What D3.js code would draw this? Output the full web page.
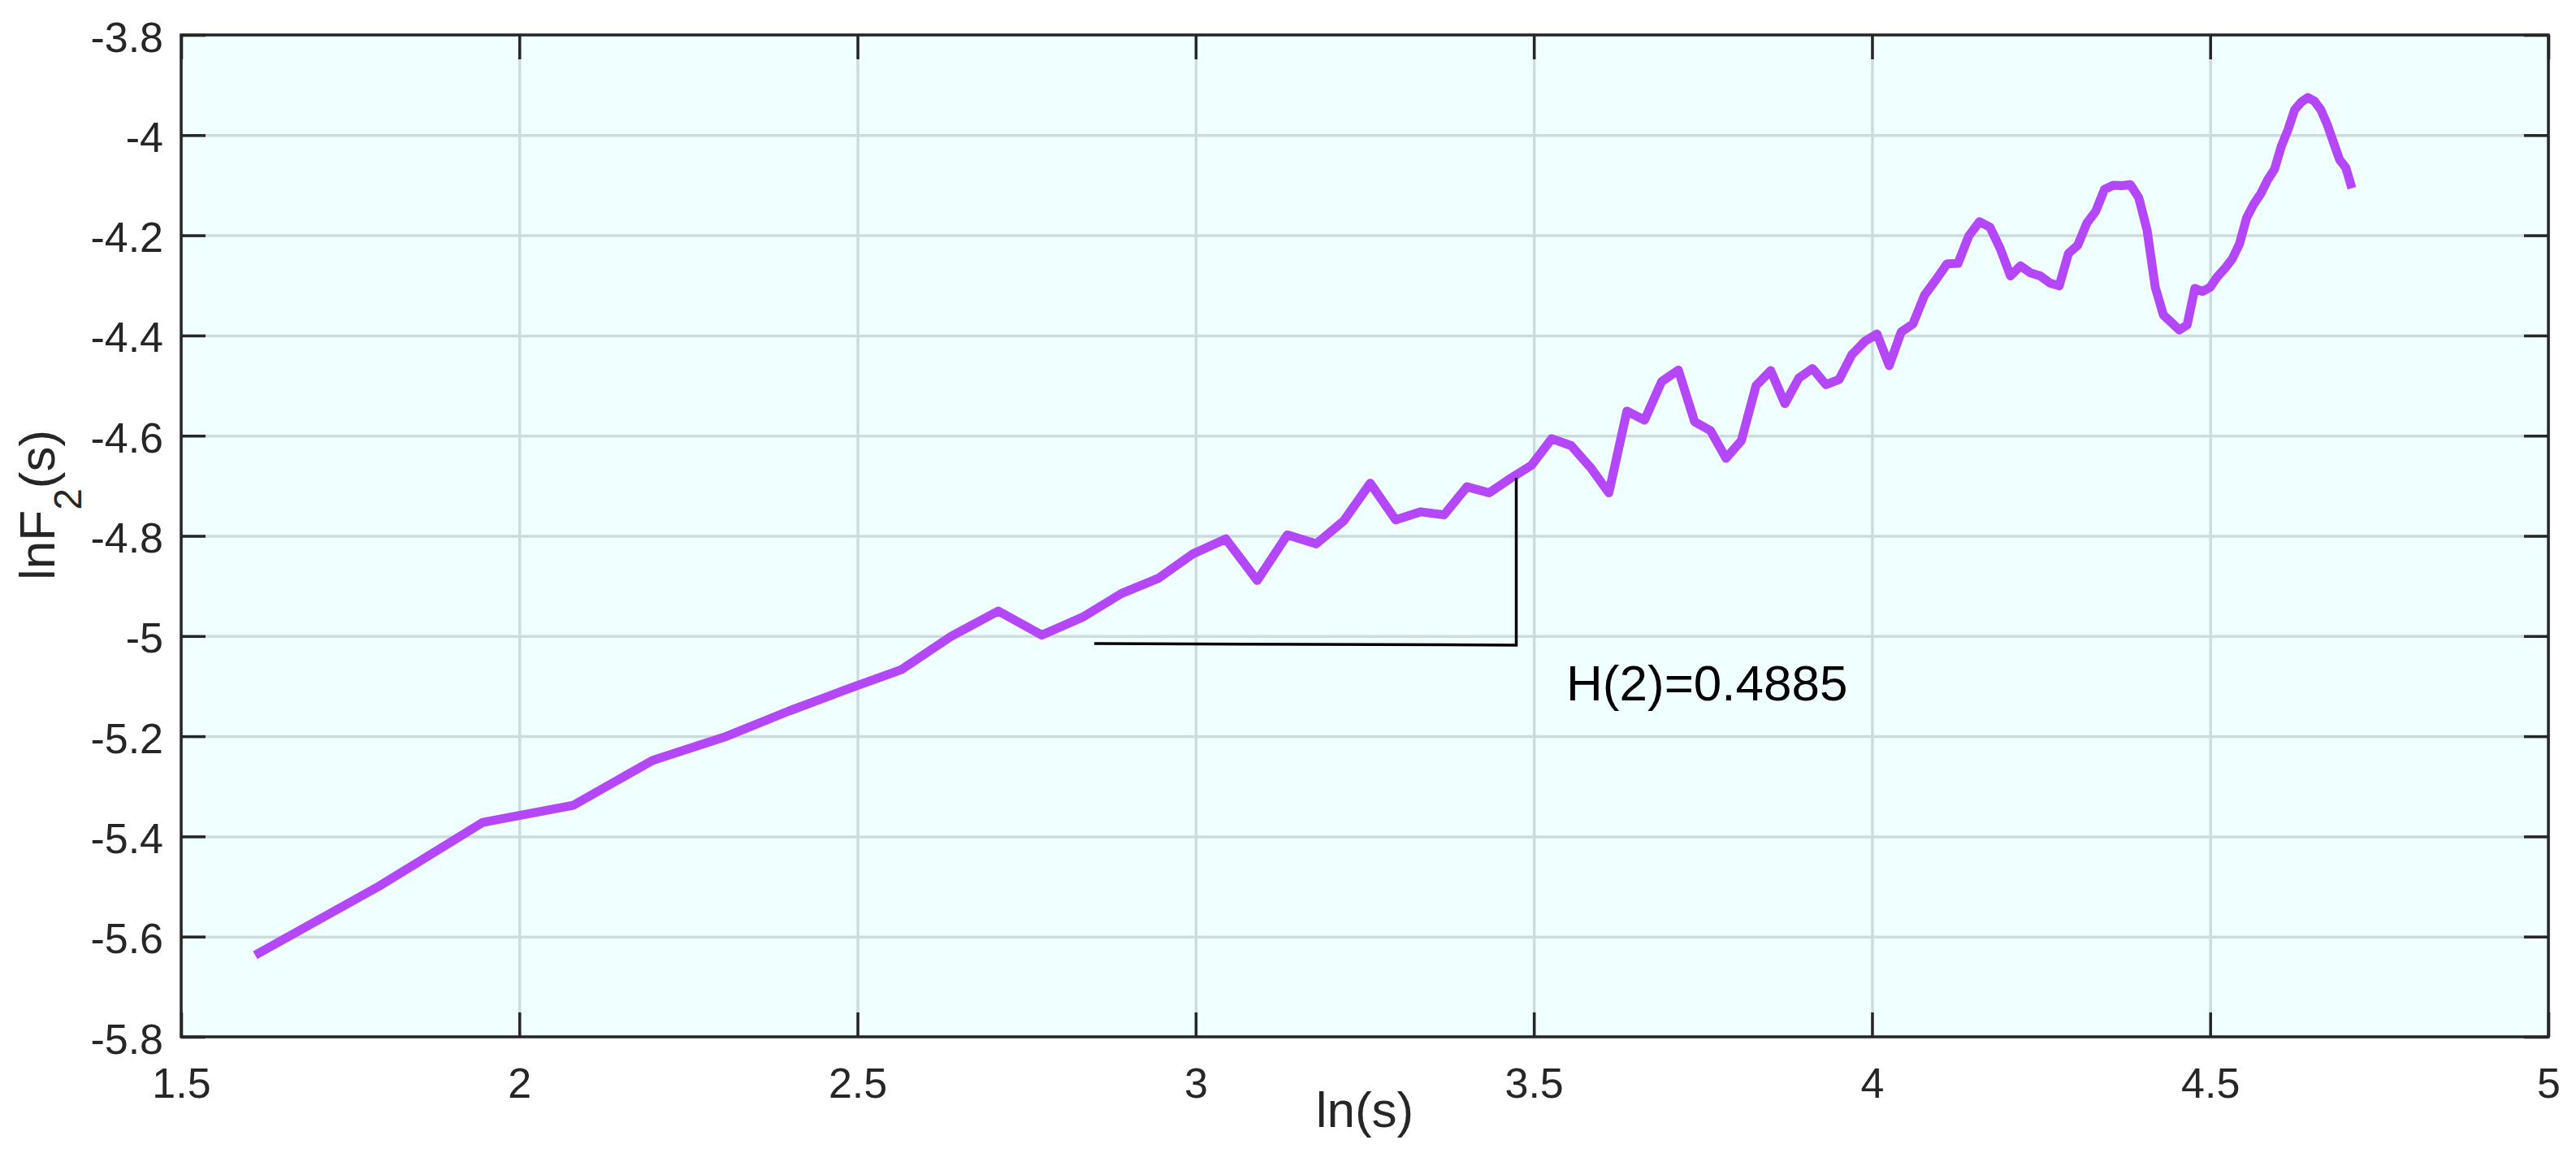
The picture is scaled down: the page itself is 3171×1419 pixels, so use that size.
<!DOCTYPE html>
<html>
<head>
<meta charset="utf-8">
<script src="https://cdn.jsdelivr.net/npm/d3@7"></script>
<style>
  html, body { margin: 0; padding: 0; background: #ffffff; }
  svg { display: block; }
  text { font-family: "Liberation Sans", Arial, Helvetica, sans-serif; }
</style>
</head>
<body>
<div id="chart"></div>
<script>
// ---- data: x = ln(s) for window sizes s = 5..111 ----
const lnS = [1.6094,1.7918,1.9459,2.0794,2.1972,2.3026,2.3979,2.4849,2.5649,2.6391,
  2.7081,2.7726,2.8332,2.8904,2.9444,2.9957,3.0445,3.0910,3.1355,3.1781,
  3.2189,3.2581,3.2958,3.3322,3.3673,3.4012,3.4340,3.4657,3.4965,3.5264,
  3.5553,3.5835,3.6109,3.6376,3.6636,3.6889,3.7136,3.7377,3.7612,3.7842,
  3.8067,3.8286,3.8501,3.8712,3.8918,3.9120,3.9318,3.9512,3.9703,3.9890,
  4.0073,4.0254,4.0431,4.0604,4.0775,4.0943,4.1109,4.1271,4.1431,4.1589,
  4.1744,4.1897,4.2047,4.2195,4.2341,4.2485,4.2627,4.2767,4.2905,4.3041,
  4.3175,4.3307,4.3438,4.3567,4.3694,4.3820,4.3944,4.4067,4.4188,4.4308,
  4.4427,4.4543,4.4659,4.4773,4.4886,4.4998,4.5109,4.5218,4.5326,4.5433,
  4.5539,4.5643,4.5747,4.5850,4.5951,4.6052,4.6151,4.6250,4.6347,4.6444,
  4.6540,4.6634,4.6728,4.6821,4.6913,4.7005,4.7095];

const lnF2 = [-5.637,-5.500,-5.372,-5.338,-5.248,-5.202,-5.150,-5.106,-5.067,-5.000,
  -4.950,-4.998,-4.962,-4.915,-4.885,-4.836,-4.806,-4.889,-4.798,-4.816,
  -4.770,-4.695,-4.768,-4.752,-4.758,-4.702,-4.714,-4.685,-4.659,-4.606,
  -4.620,-4.663,-4.714,-4.551,-4.569,-4.492,-4.469,-4.572,-4.590,-4.645,
  -4.610,-4.500,-4.470,-4.536,-4.485,-4.466,-4.498,-4.488,-4.438,-4.412,
  -4.397,-4.460,-4.393,-4.377,-4.320,-4.289,-4.257,-4.256,-4.201,-4.173,
  -4.184,-4.227,-4.281,-4.261,-4.275,-4.281,-4.295,-4.301,-4.236,-4.220,
  -4.176,-4.152,-4.108,-4.100,-4.101,-4.099,-4.125,-4.190,-4.304,-4.359,
  -4.374,-4.389,-4.379,-4.306,-4.312,-4.304,-4.282,-4.266,-4.247,-4.217,
  -4.165,-4.138,-4.117,-4.089,-4.068,-4.022,-3.989,-3.949,-3.934,-3.925,
  -3.932,-3.949,-3.978,-4.014,-4.049,-4.065,-4.106];

const xTickValues = [1.5, 2, 2.5, 3, 3.5, 4, 4.5, 5];
const xTickLabels = ["1.5", "2", "2.5", "3", "3.5", "4", "4.5", "5"];
const yTickValues = [-5.8, -5.6, -5.4, -5.2, -5, -4.8, -4.6, -4.4, -4.2, -4, -3.8];
const yTickLabels = ["-5.8", "-5.6", "-5.4", "-5.2", "-5", "-4.8", "-4.6", "-4.4", "-4.2", "-4", "-3.8"];

// slope-guide annotation (horizontal leg, then vertical leg)
const guideX = [2.85, 3.474, 3.474];
const guideY = [-5.015, -5.018, -4.684];
const hurstLabel = "H(2)=0.4885";
const hurstLabelX = [3.548];
const hurstLabelY = [-5.128];

const xLabel = "ln(s)";

// ---- layout ----
const W = 3171, H = 1419;
const L = 223, R = 3137, T = 43, B = 1276;
const tickLen = 30;

const svg = d3.select("#chart").append("svg")
  .attr("width", W).attr("height", H).attr("viewBox", `0 0 ${W} ${H}`);

const x = d3.scaleLinear().domain([1.5, 5]).range([L, R]);
const y = d3.scaleLinear().domain([-5.8, -3.8]).range([B, T]);

// background
svg.append("rect").attr("x", L).attr("y", T).attr("width", R - L).attr("height", B - T)
  .attr("fill", "#f0ffff");

// grid
const gridColor = "#ccdcdc";
svg.append("g").attr("transform", `translate(0,${B})`)
  .call(d3.axisBottom(x).tickValues(xTickValues).tickSizeInner(-(B - T)).tickSizeOuter(0).tickFormat(""))
  .call(g => g.select(".domain").remove())
  .call(g => g.selectAll("line").attr("stroke", gridColor).attr("stroke-width", 3.5));
svg.append("g").attr("transform", `translate(${L},0)`)
  .call(d3.axisLeft(y).tickValues(yTickValues).tickSizeInner(-(R - L)).tickSizeOuter(0).tickFormat(""))
  .call(g => g.select(".domain").remove())
  .call(g => g.selectAll("line").attr("stroke", gridColor).attr("stroke-width", 3.5));

const axisColor = "#262626";
// bottom axis with labels
svg.append("g").attr("transform", `translate(0,${B})`)
  .call(d3.axisBottom(x).tickValues(xTickValues).tickSizeInner(-tickLen).tickSizeOuter(0)
    .tickFormat((d, i) => xTickLabels[i]))
  .call(g => g.select(".domain").remove())
  .call(g => g.selectAll("line").attr("stroke", axisColor).attr("stroke-width", 3.5))
  .call(g => g.selectAll("text").attr("y", 75).attr("dy", 0)
    .attr("fill", axisColor).attr("font-size", 52)
    .attr("font-family", "'Liberation Sans', Arial, sans-serif"));
// top axis ticks
svg.append("g").attr("transform", `translate(0,${T})`)
  .call(d3.axisTop(x).tickValues(xTickValues).tickSizeInner(-tickLen).tickSizeOuter(0).tickFormat(""))
  .call(g => g.select(".domain").remove())
  .call(g => g.selectAll("line").attr("stroke", axisColor).attr("stroke-width", 3.5));
// left axis with labels
svg.append("g").attr("transform", `translate(${L},0)`)
  .call(d3.axisLeft(y).tickValues(yTickValues).tickSizeInner(-tickLen).tickSizeOuter(0)
    .tickFormat((d, i) => yTickLabels[i]))
  .call(g => g.select(".domain").remove())
  .call(g => g.selectAll("line").attr("stroke", axisColor).attr("stroke-width", 3.5))
  .call(g => g.selectAll("text").attr("x", -22).attr("dy", 20)
    .attr("fill", axisColor).attr("font-size", 52)
    .attr("font-family", "'Liberation Sans', Arial, sans-serif"));
// right axis ticks
svg.append("g").attr("transform", `translate(${R},0)`)
  .call(d3.axisRight(y).tickValues(yTickValues).tickSizeInner(-tickLen).tickSizeOuter(0).tickFormat(""))
  .call(g => g.select(".domain").remove())
  .call(g => g.selectAll("line").attr("stroke", axisColor).attr("stroke-width", 3.5));

// data line
const pts = lnS.map((v, i) => [v, lnF2[i]]);
svg.append("path")
  .datum(pts)
  .attr("fill", "none")
  .attr("stroke", "#b347f9")
  .attr("stroke-width", 11)
  .attr("stroke-linejoin", "round")
  .attr("stroke-linecap", "butt")
  .attr("d", d3.line().x(d => x(d[0])).y(d => y(d[1])));

// slope guide
const guidePts = guideX.map((v, i) => [v, guideY[i]]);
svg.append("path")
  .datum(guidePts)
  .attr("fill", "none")
  .attr("stroke", "#000000")
  .attr("stroke-width", 3.5)
  .attr("d", d3.line().x(d => x(d[0])).y(d => y(d[1])));

svg.append("text")
  .attr("x", x(hurstLabelX[0])).attr("y", y(hurstLabelY[0]))
  .attr("font-size", 62).attr("fill", "#000000")
  .text(hurstLabel);

// frame
svg.append("rect").attr("x", L).attr("y", T).attr("width", R - L).attr("height", B - T)
  .attr("fill", "none").attr("stroke", axisColor).attr("stroke-width", 3.5);

// axis labels
svg.append("text")
  .attr("x", (L + R) / 2).attr("y", 1387)
  .attr("text-anchor", "middle")
  .attr("font-size", 62).attr("fill", axisColor)
  .text(xLabel);

const yl = svg.append("text")
  .attr("transform", "translate(67,714) rotate(-90)")
  .attr("font-size", 62).attr("fill", axisColor);
yl.append("tspan").text("lnF");
yl.append("tspan").attr("font-size", 48).attr("dy", 33).text("2");
yl.append("tspan").attr("dy", -33).text("(s)");
</script>
</body>
</html>
